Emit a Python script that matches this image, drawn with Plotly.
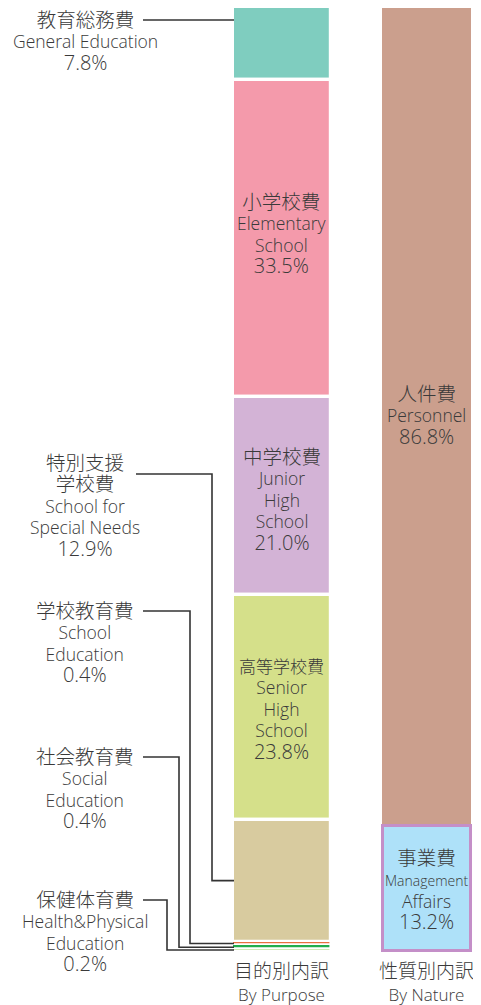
import plotly.graph_objects as go

# ---------------- data ----------------
purpose_jp = ["教育総務費", "小学校費", "中学校費", "高等学校費", "特別支援学校費",
              "学校教育費", "社会教育費", "保健体育費"]
purpose_en = ["General Education", "Elementary School", "Junior High School",
              "Senior High School", "School for Special Needs", "School Education",
              "Social Education", "Health&Physical Education"]
purpose_pct = [7.8, 33.5, 21.0, 23.8, 12.9, 0.4, 0.4, 0.2]
purpose_colors = ["#7fcdbf", "#f49aab", "#d3b3d6", "#d5e08a", "#d8cb9f",
                  "#ea7040", "#22ad4b", "#9fd36a"]

nature_jp = ["人件費", "事業費"]
nature_en = ["Personnel", "Management Affairs"]
nature_pct = [86.8, 13.2]
nature_colors = ["#cb9f8d", "#aee1f9"]

cat_keys = ["purpose", "nature"]
cat_jp = ["目的別内訳", "性質別内訳"]
cat_en = ["By Purpose", "By Nature"]

# ---------------- layout geometry (reference pixel space, page offset 8px) ----------------
OFF = 8                          # page body margin
W, H = 481 - 2 * OFF, 1005 - OFF
PX0, SCALE = 6.5, 9.445          # reference pixel of value 0, px per percent
PLOT_TOP, PLOT_BOT = 8, 956      # reference pixels of plot area
T = PLOT_TOP - OFF
B = (OFF + H) - PLOT_BOT
y_top = (PLOT_TOP - PX0) / SCALE
y_bot = (PLOT_BOT - PX0) / SCALE
CX0, CSTEP = 281.5, 145.0        # reference pixel centre of first category, px per category
x_lo = (OFF - CX0) / CSTEP
x_hi = (OFF + W - CX0) / CSTEP


def xu(px):
    return (px - CX0) / CSTEP


def yu(px):
    return (px - PX0) / SCALE


def ypaper(px):
    return 1 - (px - PLOT_TOP) / (PLOT_BOT - PLOT_TOP)


TXT = "#3a3a3a"
FONT = "Open Sans, Noto Sans CJK JP, sans-serif"
BW_P = 98 / CSTEP
BW_N = 92 / CSTEP
BW_M = 88 / CSTEP

fig = go.Figure()

cum = 0
p_bounds = []
for i, v in enumerate(purpose_pct):
    small = v < 1
    fig.add_trace(go.Bar(
        x=[cat_keys[0]], y=[v], base=[cum], width=[BW_P],
        marker=dict(color=purpose_colors[i],
                    line=dict(color="white", width=1.6 if small else 3.2)),
        hoverinfo="skip", showlegend=False))
    p_bounds.append((cum, cum + v))
    cum += v

cum = 0
n_bounds = []
for i, v in enumerate(nature_pct):
    mgmt = i == 1
    fig.add_trace(go.Bar(
        x=[cat_keys[1]], y=[v], base=[cum], width=[BW_M if mgmt else BW_N],
        marker=dict(color=nature_colors[i],
                    line=dict(color="#c48fc8" if mgmt else "white", width=3)),
        hoverinfo="skip", showlegend=False))
    n_bounds.append((cum, cum + v))
    cum += v

SIZES = {"jp": 19.5, "jps": 17, "en": 17.5, "small": 14, "pct": 20}


def label(lines):
    return "<br>".join(f"<span style='font-size:{SIZES[k]}px'>{t}</span>" for k, t in lines)


def pct(v):
    return f"{v:.1f}%"


BASE = dict(size=16.5, color=TXT, family=FONT, weight=300)

# inside labels (purpose bar)
inside = {
    1: [("jp", purpose_jp[1]), ("en", "Elementary"), ("en", "School"), ("pct", pct(purpose_pct[1]))],
    2: [("jp", purpose_jp[2]), ("en", "Junior"), ("en", "High"), ("en", "School"), ("pct", pct(purpose_pct[2]))],
    3: [("jps", purpose_jp[3]), ("en", "Senior"), ("en", "High"), ("en", "School"), ("pct", pct(purpose_pct[3]))],
}
offs = {1: -0.5, 2: 0.4, 3: 0.3}
for i, lines in inside.items():
    a, b = p_bounds[i]
    fig.add_annotation(x=0, y=(a + b) / 2 + offs[i], xref="x", yref="y",
                       text=label(lines), showarrow=False, font=BASE, align="center")

# inside labels (nature bar)
nat_lines = [
    [("jp", nature_jp[0]), ("en", nature_en[0]), ("pct", pct(nature_pct[0]))],
    [("jp", nature_jp[1]), ("small", "Management"), ("en", "Affairs"), ("pct", pct(nature_pct[1]))],
]
nat_offs = [-0.2, 0.1]
for i, lines in enumerate(nat_lines):
    a, b = n_bounds[i]
    fig.add_annotation(x=1, y=(a + b) / 2 + nat_offs[i], xref="x", yref="y",
                       text=label(lines), showarrow=False, font=BASE, align="center")

# outside labels with leaders
LX = xu(85)
outside = [
    # idx, label lines, leader y px, vertical x px, leader start x px, label centre px
    (0, [("jp", purpose_jp[0]), ("en", purpose_en[0]), ("pct", pct(purpose_pct[0]))],
     20, None, 143, 41),
    (4, [("jp", "特別支援"), ("jp", "学校費"), ("en", "School for"), ("en", "Special Needs"),
         ("pct", pct(purpose_pct[4]))], 474, 212, 136, 505),
    (5, [("jp", purpose_jp[5]), ("en", "School"), ("en", "Education"), ("pct", pct(purpose_pct[5]))],
     611, 190, 143, 642),
    (6, [("jp", purpose_jp[6]), ("en", "Social"), ("en", "Education"), ("pct", pct(purpose_pct[6]))],
     757, 179, 143, 788),
    (7, [("jp", purpose_jp[7]), ("en", "Health&amp;Physical"), ("en", "Education"),
         ("pct", pct(purpose_pct[7]))], 900, 167, 143, 931),
]
bar_left = xu(234)
for idx, lines, ly, vx, sx, cy in outside:
    fig.add_annotation(x=LX, y=ypaper(cy), xref="x", yref="paper", yanchor="middle",
                       text=label(lines), showarrow=False, font=BASE, align="center")
    line = dict(color="#333333", width=1.6)
    if vx is None:
        fig.add_shape(type="line", x0=xu(sx), x1=bar_left, y0=yu(ly), y1=yu(ly),
                      xref="x", yref="y", line=line, layer="above")
    else:
        a, b = p_bounds[idx]
        ym = (a + b) / 2
        path = (f"M {xu(sx)},{yu(ly)} L {xu(vx)},{yu(ly)} L {xu(vx)},{ym} "
                f"L {bar_left},{ym}")
        fig.add_shape(type="path", path=path, xref="x", yref="y",
                      line=line, layer="above")

ticktext = [f"<span style='font-size:19px'>{j}</span><br><span style='font-size:17px'>{e}</span>"
            for j, e in zip(cat_jp, cat_en)]

fig.update_layout(
    width=W, height=H,
    margin=dict(l=0, r=0, t=T, b=B, pad=0, autoexpand=False),
    paper_bgcolor="white", plot_bgcolor="white",
    barmode="overlay", bargap=0,
    font=dict(family=FONT, color=TXT),
    xaxis=dict(type="category", categoryorder="array", categoryarray=cat_keys,
               range=[x_lo, x_hi], tickvals=cat_keys, ticktext=ticktext,
               tickfont=dict(size=18, color=TXT, family=FONT, weight=300),
               showgrid=False, zeroline=False, showline=False, ticks="",
               ticklabelstandoff=3, automargin=False, fixedrange=True),
    yaxis=dict(range=[y_bot, y_top], visible=False, showgrid=False, zeroline=False,
               automargin=False, fixedrange=True),
)

fig.write_html("out.html")
